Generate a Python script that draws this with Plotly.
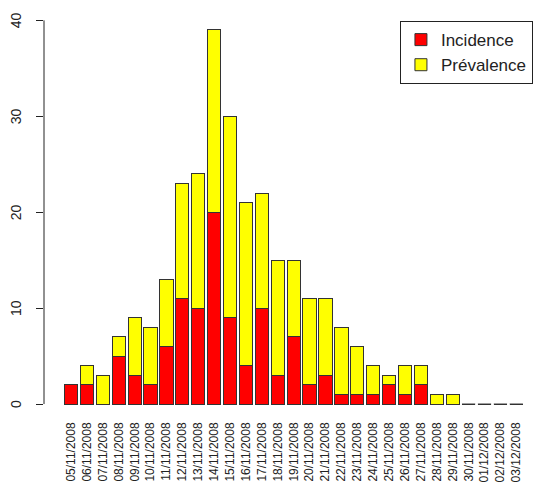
import plotly.graph_objects as go

dates = ["05/11/2008", "06/11/2008", "07/11/2008", "08/11/2008", "09/11/2008",
         "10/11/2008", "11/11/2008", "12/11/2008", "13/11/2008", "14/11/2008",
         "15/11/2008", "16/11/2008", "17/11/2008", "18/11/2008", "19/11/2008",
         "20/11/2008", "21/11/2008", "22/11/2008", "23/11/2008", "24/11/2008",
         "25/11/2008", "26/11/2008", "27/11/2008", "28/11/2008", "29/11/2008",
         "30/11/2008", "01/12/2008", "02/12/2008", "03/12/2008"]
incidence = [2, 2, 0, 5, 3, 2, 6, 11, 10, 20, 9, 4, 10, 3, 7, 2, 3, 1, 1, 1, 2, 1, 2, 0, 0, 0, 0, 0, 0]
prevalence = [0, 2, 3, 2, 6, 6, 7, 12, 14, 19, 21, 17, 12, 12, 8, 9, 8, 7, 5, 3, 1, 3, 2, 1, 1, 0, 0, 0, 0]
y_ticks = [0, 10, 20, 30, 40]

pos = list(range(len(dates)))
BAR_W = 1 / 1.2
FONT = "Liberation Sans, Arial, sans-serif"
EDGE = "#333333"
TXT = "#222222"

fig = go.Figure()
fig.add_trace(go.Bar(x=pos, y=incidence, name="Incidence", width=BAR_W,
                     marker=dict(color="#ff0000", line=dict(color=EDGE, width=1))))
fig.add_trace(go.Bar(x=pos, y=prevalence, name="Prévalence", width=BAR_W,
                     marker=dict(color="#ffff00", line=dict(color=EDGE, width=1))))

# zero-height bars drawn as flat outlines (as R does)
zx, zy = [], []
for p, a, b in zip(pos, incidence, prevalence):
    if a + b == 0:
        zx += [p - BAR_W / 2, p + BAR_W / 2, None]
        zy += [0, 0, None]
fig.add_trace(go.Scatter(x=zx, y=zy, mode="lines", line=dict(color=EDGE, width=1),
                         showlegend=False, hoverinfo="skip"))

ymax = max(a + b for a, b in zip(incidence, prevalence))
y_lo, y_hi = -0.04 * ymax, ymax * 1.04


def yp(v):
    return (v - y_lo) / (y_hi - y_lo)


annotations = [dict(text=str(v), x=0, xref="paper", y=v, yref="y", xshift=-28,
                    xanchor="center", yanchor="middle", textangle=-90, showarrow=False,
                    font=dict(size=14, color=TXT, family=FONT)) for v in y_ticks]

fig.update_layout(
    width=537, height=487,
    margin=dict(l=44, r=0, t=15, b=68),
    barmode="stack",
    plot_bgcolor="white", paper_bgcolor="white",
    font=dict(family=FONT, size=12, color=TXT),
    xaxis=dict(range=[-1.70, 29.3], tickmode="array", tickvals=pos, ticktext=dates,
               tickangle=-90, showgrid=False, zeroline=False, showline=False,
               ticks="", tickfont=dict(size=12)),
    yaxis=dict(range=[y_lo, y_hi], tickmode="array", tickvals=y_ticks,
               showticklabels=False, showgrid=False, zeroline=False, showline=False,
               ticks="outside", ticklen=7, tickcolor=TXT, tickwidth=1),
    legend=dict(x=0.722, y=0.985, xanchor="left", yanchor="top",
                bordercolor=TXT, borderwidth=1, bgcolor="white",
                font=dict(size=17), tracegroupgap=0, traceorder="normal",
                entrywidth=94),
    annotations=annotations,
    shapes=[dict(type="line", xref="paper", yref="paper", x0=0, x1=0,
                 y0=yp(y_ticks[0]), y1=yp(y_ticks[-1]),
                 line=dict(color=TXT, width=1))],
)
fig.write_html("out.html", config={"displayModeBar": False},
               post_script="document.body.style.margin='0';")
